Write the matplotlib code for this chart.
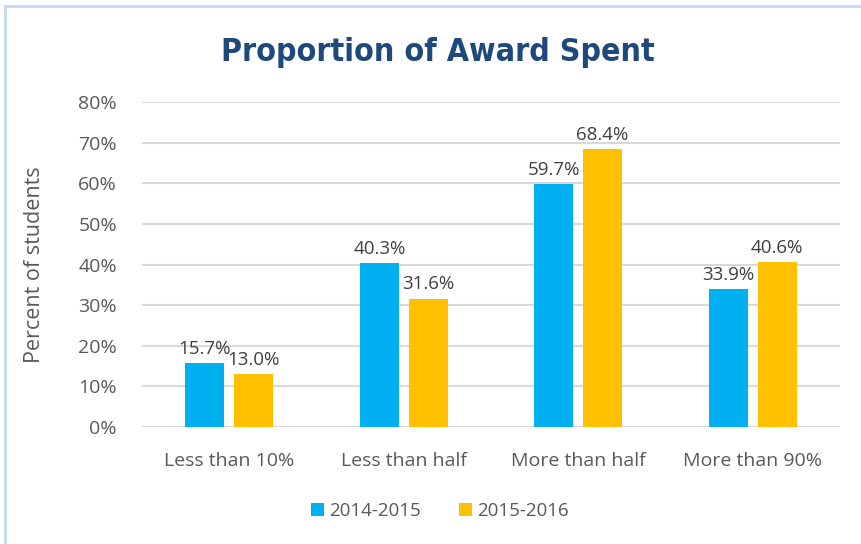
import matplotlib
matplotlib.use('Agg')
import matplotlib.pyplot as plt
from matplotlib.lines import Line2D
import numpy as np

categories = ['Less than 10%', 'Less than half', 'More than half', 'More than 90%']
series_names = ['2014-2015', '2015-2016']
vals_2014 = [15.7, 40.3, 59.7, 33.9]
vals_2015 = [13.0, 31.6, 68.4, 40.6]
colors = ['#00B0F0', '#FFC000']

plt.rcParams['font.family'] = ['Open Sans', 'DejaVu Sans']

fig = plt.figure(figsize=(8.62, 5.44), dpi=100)
ax = fig.add_axes([142/862, 117/544, 698/862, 325/544])

x = np.arange(len(categories))
w = 0.224
off = 0.14
b1 = ax.bar(x - off, vals_2014, w, color=colors[0], label=series_names[0], zorder=3)
b2 = ax.bar(x + off, vals_2015, w, color=colors[1], label=series_names[1], zorder=3)

for bars, vals in ((b1, vals_2014), (b2, vals_2015)):
    for r, v in zip(bars, vals):
        ax.text(r.get_x() + r.get_width()/2, v + 1.3, f'{v:.1f}%', ha='center', va='bottom',
                fontsize=13.5, color='#404040')

ax.set_xlim(-0.5, 3.5)
ax.set_ylim(0, 80)
ax.set_yticks(np.arange(0, 81, 10))
ax.set_yticklabels([f'{t}%' for t in range(0, 81, 10)])
ax.set_xticks(x)
ax.set_xticklabels(categories)
ax.tick_params(length=0, labelsize=14, labelcolor='#595959')
ax.tick_params(axis='y', pad=18)
ax.tick_params(axis='x', pad=18)
ax.grid(axis='y', color='#D9D9D9', linewidth=1.5, zorder=0)
for s in ax.spines.values():
    s.set_visible(False)
ax.set_ylabel('Percent of students', fontsize=15.5, color='#595959', labelpad=24)

fig.text(438/862, 1 - 52/544, 'Proportion of Award Spent', ha='center', va='center',
         fontsize=23, fontweight='bold', fontstretch='condensed', color='#1F497D',
         family=['DejaVu Sans'])

leg = fig.legend(handles=[b1, b2], loc='center', bbox_to_anchor=(440/862, 1 - 511/544), ncol=2,
                 frameon=False, fontsize=13.5, handlelength=0.7, handleheight=0.7, columnspacing=2.0,
                 handletextpad=0.3)
for t in leg.get_texts():
    t.set_color('#595959')

fig.add_artist(Line2D([5/862, 5/862], [0, 1 - 6/544], color='#C5D9F1', linewidth=2, transform=fig.transFigure))
fig.add_artist(Line2D([5/862, 1], [1 - 6/544, 1 - 6/544], color='#C5D9F1', linewidth=2, transform=fig.transFigure))

fig.savefig('out.png', dpi=100)
